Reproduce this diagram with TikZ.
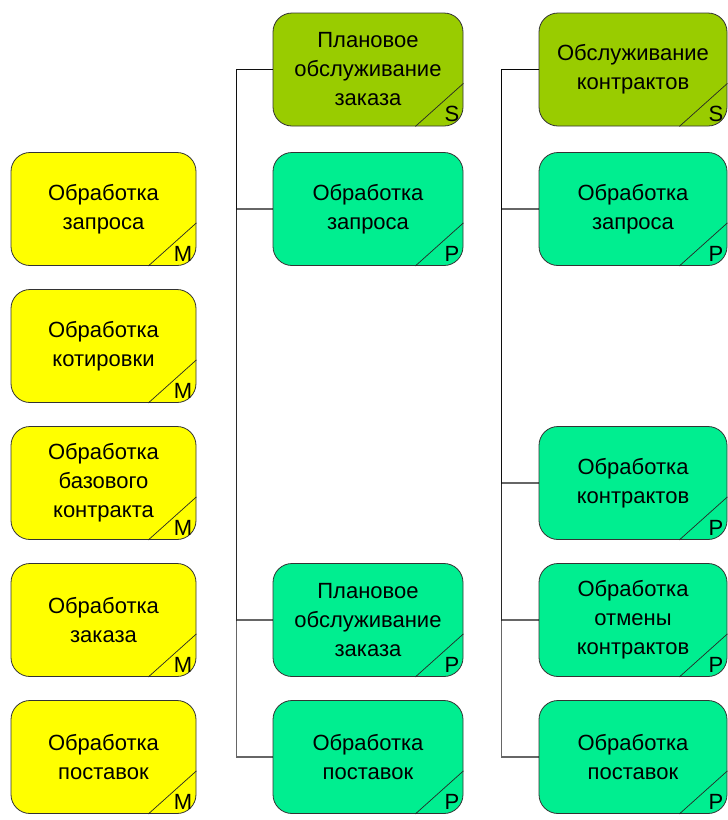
\documentclass[tikz,border=0pt]{standalone}
\usepackage{fontspec}
\setmainfont{Liberation Sans}
\definecolor{cyel}{RGB}{255,255,0}
\definecolor{colive}{RGB}{153,204,0}
\definecolor{cmint}{RGB}{0,238,144}
\begin{document}
\begin{tikzpicture}[x=1pt,y=-1pt,
  box/.style={draw=black!80, line width=0.8pt, rounded corners=19pt, minimum height=113pt, inner sep=0pt, align=center, font=\fontsize{22}{29}\selectfont},
  yb/.style={box, fill=cyel, minimum width=185pt},
  ob/.style={box, fill=colive},
  mb/.style={box, fill=cmint},
  midw/.style={minimum width=190pt},
  rw/.style={minimum width=188pt},
  corner/.style={draw=black!85, line width=0.7pt},
  tag/.style={font=\fontsize{22}{22}\selectfont, inner sep=0pt, anchor=south east},
  conn/.style={draw=black, draw opacity=0.6, line width=1.1pt}
]
\useasboundingbox (0,0) rectangle (728,820);
\fill[white] (0,0) rectangle (728,820);

% left column
\node[yb] (l1) at (103.5,209) {Обработка\\запроса};
\node[yb] (l2) at (103.5,346) {Обработка\\котировки};
\node[yb] (l3) at (103.5,483) {Обработка\\базового\\контракта};
\node[yb] (l4) at (103.5,620) {Обработка\\заказа};
\node[yb] (l5) at (103.5,757) {Обработка\\поставок};

% middle column
\node[ob,midw] (m0) at (368,69.5) {Плановое\\обслуживание\\заказа};
\node[mb,midw] (m1) at (368,209) {Обработка\\запроса};
\node[mb,midw] (m4) at (368,620) {Плановое\\обслуживание\\заказа};
\node[mb,midw] (m5) at (368,757) {Обработка\\поставок};

% right column
\node[ob,rw] (r0) at (633,69.5) {Обслуживание\\контрактов};
\node[mb,rw] (r1) at (633,209) {Обработка\\запроса};
\node[mb,rw] (r3) at (633,483) {Обработка\\контрактов};
\node[mb,rw] (r4) at (633,620) {Обработка\\отмены\\контрактов};
\node[mb,rw] (r5) at (633,757) {Обработка\\поставок};

% corner tags
\foreach \n/\t in {l1/M,l2/M,l3/M,l4/M,l5/M,m0/S,m1/P,m4/P,m5/P,r0/S,r1/P,r3/P,r4/P,r5/P}{
  \draw[corner] ([xshift=-48pt]\n.south east) -- ([yshift=43pt]\n.south east);
  \node[tag] (\n t) at ([xshift=-4pt,yshift=4pt]\n.south east) {\t};
}

% connectors
\foreach \c in {m1,m4,m5}{
  \draw[conn] (m0.west) -- ++(-36,0) |- (\c.west);
}
\foreach \c in {r1,r3,r4,r5}{
  \draw[conn] (r0.west) -- ++(-37,0) |- (\c.west);
}
\end{tikzpicture}
\end{document}
